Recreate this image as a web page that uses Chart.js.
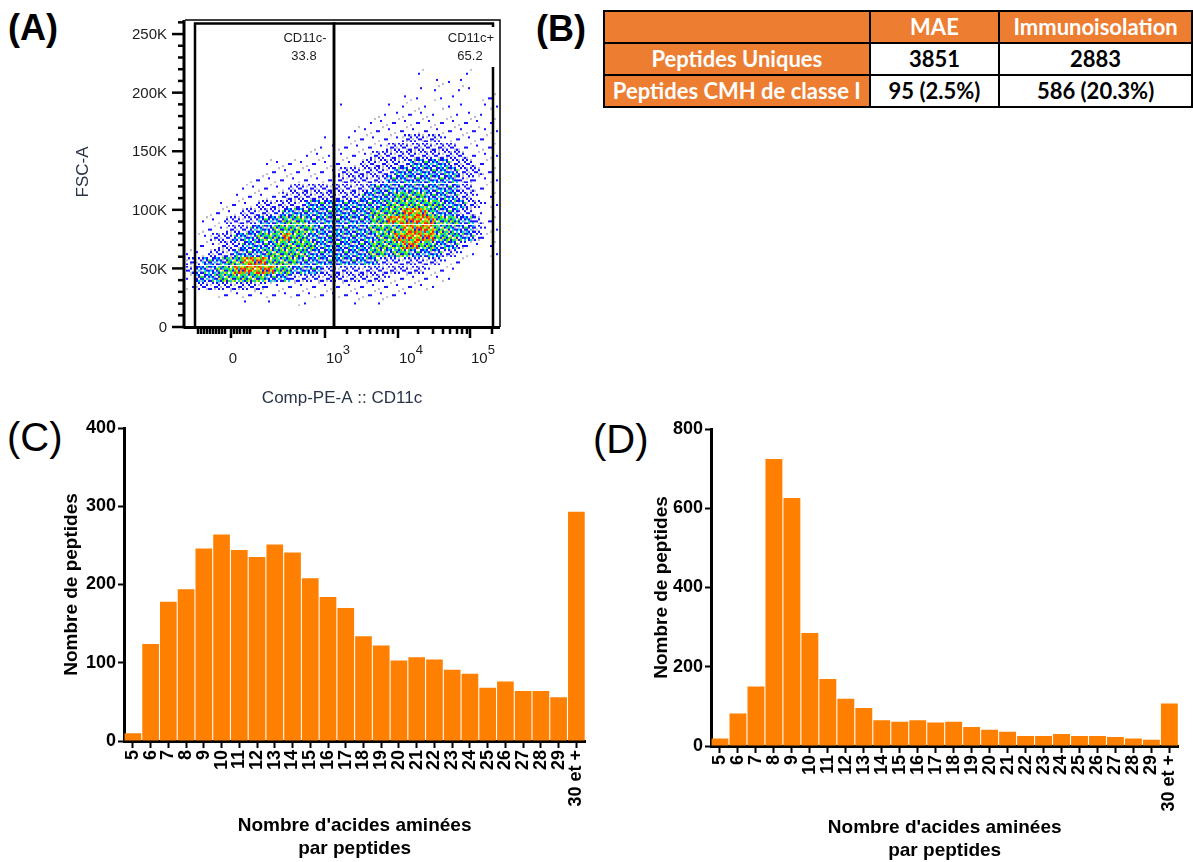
<!DOCTYPE html>
<html>
<head>
<meta charset="utf-8">
<script src="https://cdn.jsdelivr.net/npm/chart.js@4.4.1/dist/chart.umd.min.js"></script>
<style>
  body { margin: 0; background: #fff; width: 1193px; height: 862px; position: relative; overflow: hidden;
         font-family: "Liberation Sans", Arial, sans-serif; }
  .panel-label { position: absolute; line-height: 1; color: #000; }
  canvas { position: absolute; }
  #summaryTable { position: absolute; left: 603px; top: 10px; border-collapse: collapse;
                  font-family: Lato, "Open Sans", sans-serif; font-weight: bold; font-size: 22px; }
  #summaryTable td { border: 2px solid #000; height: 30px; padding: 0; text-align: center; line-height: 1; }
  #summaryTable td.orange { background: #ed7d31; color: #fff; }
  #summaryTable td.value { background: #fff; color: #000; }
</style>
</head>
<body>
<div class="panel-label" style="left:8px;top:10px;font-size:36px;font-weight:bold">(A)</div>
<div class="panel-label" style="left:536px;top:11px;font-size:36px;font-weight:bold">(B)</div>
<div class="panel-label" style="left:7px;top:417px;font-size:40px">(C)</div>
<div class="panel-label" style="left:593px;top:419px;font-size:40px">(D)</div>

<canvas id="flowChart" width="520" height="420" style="left:0;top:0"></canvas>
<table id="summaryTable"></table>
<canvas id="maeChart" width="600" height="462" style="left:0;top:400px"></canvas>
<canvas id="immunoChart" width="593" height="462" style="left:600px;top:400px"></canvas>

<script>
// ---------- Panel A : CD11c gating (display channels on x, FSC-A on y) ----------
const fscTicks = [0, 50000, 100000, 150000, 200000, 250000];
const fscTickLabels = ["0", "50K", "100K", "150K", "200K", "250K"];
const cd11cTickPos = [46, 140, 213, 285]; // 0, 10^3, 10^4, 10^5
const cd11cTickBase = ["0", "10", "10", "10"];
const cd11cTickExp = ["", "3", "4", "5"];
const cd11cMinorPos = [13, 16, 19, 22, 25, 28, 31, 34, 37, 40, 49, 52, 55, 59, 62, 65,
  83, 95, 105, 112, 118, 123, 128, 132, 162, 175, 185, 192, 198, 203, 208,
  233, 248, 258, 265, 272, 277, 282, 307];

const gateNames = ["CD11c-", "CD11c+"];
const gateFreqs = ["33.8", "65.2"];
const gateNegX = [10, 10, 149, 149];
const gatePosX = [149, 149, 308, 308];
const gateY = [0, 259000, 259000, 0];

// density: 0 empty .. 5 red
// rows from FSC 217K down to 21K (step 7K), columns every 8 channels starting at 5
const densityTopFsc = 217000;
const densityStepFsc = 7000;
const densityFirstX = 5;
const densityStepX = 8;
const densityRows = [
  "000000000000000000000000000001000001000",
  "000000000000000000000000000000011010000",
  "000000000000000000000000000001010011001",
  "000000000000000000000000000110010100011",
  "000000000000000000010000010101001010011",
  "000000000000000000000000101111100101101",
  "000000000000000000000001111111111111101",
  "000000000000000000000111111111111111111",
  "000000000000000001001111111222221111111",
  "000000000000000010111111122222222211111",
  "000000000000000111011112222222222221111",
  "000000000011111111111122222233333222111",
  "000000000011111111122222223333333322211",
  "000000001111111111122222233333333322111",
  "000000011111122222222223333333333322111",
  "000000111111222222222233334444333322101",
  "000011111222222333333333344444443332211",
  "000111122222333333333334444555433322101",
  "001112222333444333333334455555544433211",
  "001112223334444433333334444555544333211",
  "011222333444544333333333445555544433211",
  "011122233334444433333334444554433321101",
  "111222333344444333333334434433332211001",
  "223334455544443333333333222222221110001",
  "233344555554433332222222222222111100000",
  "133344444433322222222222211111111000000",
  "122222222211111111111111111111100000000",
  "000011111111111111111111111100000000000",
  "000000010010001000000100100000000000000",
];

// ---------- Panel B ----------
const tableHeaders = ["", "MAE", "Immunoisolation"];
const tableRowNames = ["Peptides Uniques", "Peptides CMH de classe I"];
const maeTotals = ["3851", "95 (2.5%)"];
const immunoTotals = ["2883", "586 (20.3%)"];

// ---------- Panels C and D ----------
const lengthLabels = ["5", "6", "7", "8", "9", "10", "11", "12", "13", "14", "15", "16", "17",
  "18", "19", "20", "21", "22", "23", "24", "25", "26", "27", "28", "29", "30 et +"];
const maeCounts = [10, 124, 178, 194, 246, 264, 244, 235, 251, 241, 208, 184, 170,
  134, 122, 103, 107, 104, 91, 86, 68, 76, 64, 64, 56, 293];
const immunoCounts = [19, 82, 150, 724, 626, 285, 169, 119, 96, 65, 61, 65, 59,
  61, 48, 41, 36, 25, 25, 30, 25, 25, 23, 19, 16, 107];

Chart.defaults.font.family = "'Liberation Sans', Arial, sans-serif";

// speckle tiles used to draw each density cell (2px dots on an 8px tile)
const speckleColors = {
  b: "#1414ff", g: "#bcbccc", c: "#00d2e6", G: "#2ee62e",
  y: "#e8e41e", o: "#ff8c00", r: "#ff1e00",
};
const speckleTiles = {
  1: [["....", ".b..", "....", "...."], ["....", "....", "...b", "g..."], ["..g.", "....", "b...", "...."]],
  2: [["b.g.", "..b.", "bb..", "..gb"], [".b.b", "g...", "..bb", "b.g."], ["g.b.", "b..b", ".g..", "b.b."]],
  3: [["bcb.", "g.bG", "cb.b", ".bcg"], [".bbc", "Gb.b", "b.cg", "cb.b"], ["b.Gb", "cbg.", ".cbb", "bG.c"]],
  4: [["Gcyb", "bGc.", "yGbG", "cbGy"], ["cGbG", "ybcG", "G.yb", "bGcy"], ["yb.G", "cGyc", "bGGb", "G.cy"]],
  5: [["roGy", "yrcr", "Gybo", "rGro"], ["yGro", "orGy", "bryr", "Gocr"], ["oyrG", "Gr.y", "ryGo", "cGyr"]],
};

function makeSpeckle(rows) {
  const tile = document.createElement("canvas");
  tile.width = 8;
  tile.height = 8;
  const g = tile.getContext("2d");
  rows.forEach((row, r) => {
    [...row].forEach((ch, k) => {
      if (speckleColors[ch]) {
        g.fillStyle = speckleColors[ch];
        g.fillRect(k * 2, r * 2, 2, 2);
      }
    });
  });
  return tile;
}

function buildDensityDatasets() {
  const sets = [];
  for (let level = 1; level <= 5; level++) {
    const tiles = speckleTiles[level];
    tiles.forEach((tileRows, variant) => {
      const points = [];
      densityRows.forEach((row, j) => {
        [...row].forEach((ch, i) => {
          if (Number(ch) === level && (i + 2 * j) % tiles.length === variant) {
            points.push({ x: densityFirstX + densityStepX * i, y: densityTopFsc - densityStepFsc * j });
          }
        });
      });
      sets.push({
        data: points,
        pointStyle: makeSpeckle(tileRows),
        pointRadius: 4,
        order: 2,
      });
    });
  }
  return sets;
}

function gateDataset(xs) {
  return {
    data: xs.map((x, k) => ({ x: x, y: gateY[k] })),
    showLine: true,
    pointRadius: 0,
    borderColor: "#000",
    borderWidth: 2.5,
    fill: false,
    order: 1,
  };
}

// axes, frame and texts of the flow plot
const flowAxesPlugin = {
  id: "flowAxes",
  afterDatasetsDraw(chart) {
    const { ctx, chartArea: a, scales: { x, y } } = chart;
    const ink = "#1c1c1c";
    ctx.save();

    // gate labels
    const negRight = x.getPixelForValue(gateNegX[2]);
    const posRight = x.getPixelForValue(gatePosX[2]);
    ctx.fillStyle = "#fff";
    ctx.fillRect(posRight - 48, a.top + 7, 52, 40);
    ctx.fillStyle = ink;
    ctx.font = "13px 'Liberation Sans', Arial";
    ctx.textAlign = "center";
    ctx.textBaseline = "middle";
    ctx.fillText(gateNames[0], negRight - 29, 38);
    ctx.fillText(gateFreqs[0], negRight - 30, 56);
    ctx.fillText(gateNames[1], posRight - 22, 38);
    ctx.fillText(gateFreqs[1], posRight - 23, 56);

    // thin frame
    ctx.strokeStyle = "#000";
    ctx.lineWidth = 1.5;
    ctx.beginPath();
    ctx.moveTo(a.left, a.top);
    ctx.lineTo(a.right, a.top);
    ctx.lineTo(a.right, a.bottom);
    ctx.stroke();

    // axis lines
    ctx.lineWidth = 3;
    ctx.beginPath();
    ctx.moveTo(a.left - 1, a.top);
    ctx.lineTo(a.left - 1, a.bottom + 1.5);
    ctx.moveTo(a.left - 1, a.bottom + 0.5);
    ctx.lineTo(a.right, a.bottom + 0.5);
    ctx.stroke();

    // y ticks
    ctx.lineWidth = 2.5;
    for (let v = 0; v <= 260000; v += 10000) {
      const py = y.getPixelForValue(v);
      const len = fscTicks.includes(v) ? 12 : 6;
      ctx.beginPath();
      ctx.moveTo(a.left - 1, py);
      ctx.lineTo(a.left - 1 - len, py);
      ctx.stroke();
    }
    ctx.font = "15px 'Liberation Sans', Arial";
    ctx.textAlign = "right";
    fscTicks.forEach((v, k) => {
      ctx.fillText(fscTickLabels[k], a.left - 18, y.getPixelForValue(v) + 1);
    });

    // x ticks
    cd11cMinorPos.forEach((v) => {
      const px = x.getPixelForValue(v);
      ctx.beginPath();
      ctx.moveTo(px, a.bottom);
      ctx.lineTo(px, a.bottom + 7);
      ctx.stroke();
    });
    cd11cTickPos.forEach((v) => {
      const px = x.getPixelForValue(v);
      ctx.beginPath();
      ctx.moveTo(px, a.bottom);
      ctx.lineTo(px, a.bottom + 11);
      ctx.stroke();
    });
    ctx.textBaseline = "alphabetic";
    cd11cTickPos.forEach((v, k) => {
      const px = x.getPixelForValue(v);
      ctx.font = "15px 'Liberation Sans', Arial";
      if (!cd11cTickExp[k]) {
        ctx.textAlign = "center";
        ctx.fillText(cd11cTickBase[k], px + 2, 363);
      } else {
        ctx.textAlign = "left";
        ctx.fillText(cd11cTickBase[k], px + 1, 363);
        const w = ctx.measureText(cd11cTickBase[k]).width;
        ctx.font = "13px 'Liberation Sans', Arial";
        ctx.fillText(cd11cTickExp[k], px + 1 + w, 354);
      }
    });

    // axis titles
    ctx.font = "17px 'Liberation Sans', Arial";
    ctx.textAlign = "center";
    ctx.textBaseline = "middle";
    ctx.fillStyle = "#2a3448";
    ctx.fillText("Comp-PE-A :: CD11c", 342, 398);
    ctx.translate(83, 172);
    ctx.rotate(-Math.PI / 2);
    ctx.fillText("FSC-A", 0, 0);
    ctx.restore();
  },
};

new Chart(document.getElementById("flowChart"), {
  type: "scatter",
  data: {
    datasets: [gateDataset(gateNegX), gateDataset(gatePosX), ...buildDensityDatasets()],
  },
  options: {
    responsive: false,
    animation: false,
    events: [],
    layout: { padding: { left: 185, top: 20, right: 20, bottom: 93 } },
    plugins: { legend: { display: false }, tooltip: { enabled: false } },
    scales: {
      x: { type: "linear", display: false, min: 0, max: 315 },
      y: { type: "linear", display: false, min: 0, max: 262000 },
    },
  },
  plugins: [flowAxesPlugin],
});

// ---------- Panel B table ----------
function buildTable() {
  const table = document.getElementById("summaryTable");
  const widths = [265, 128, 191];
  const head = document.createElement("tr");
  tableHeaders.forEach((h, k) => {
    const td = document.createElement("td");
    td.className = "orange";
    td.style.width = widths[k] + "px";
    td.textContent = h;
    head.appendChild(td);
  });
  table.appendChild(head);
  tableRowNames.forEach((name, r) => {
    const tr = document.createElement("tr");
    [name, maeTotals[r], immunoTotals[r]].forEach((txt, k) => {
      const td = document.createElement("td");
      td.className = k === 0 ? "orange" : "value";
      td.textContent = txt;
      tr.appendChild(td);
    });
    table.appendChild(tr);
  });
}
buildTable();

// ---------- Panels C and D ----------
function buildPeptideChart(canvasId, counts, yMax, yStep, geom) {
  return new Chart(document.getElementById(canvasId), {
    type: "bar",
    data: {
      labels: lengthLabels,
      datasets: [{
        data: counts,
        backgroundColor: "#ff8000",
        barPercentage: 0.94,
        categoryPercentage: 1,
      }],
    },
    options: {
      responsive: false,
      animation: false,
      events: [],
      layout: { padding: { top: geom.top, right: geom.right, left: 0, bottom: 0 } },
      plugins: { legend: { display: false }, tooltip: { enabled: false } },
      scales: {
        x: {
          border: { color: "#000", width: 3 },
          grid: { display: true, drawOnChartArea: false, offset: false, tickLength: 7, tickWidth: 2, tickColor: "#000" },
          ticks: {
            color: "#000", font: { size: 18, weight: "bold" },
            autoSkip: false, maxRotation: 90, minRotation: 90, padding: 2,
          },
          title: {
            display: true,
            text: ["Nombre d'acides aminées", "par peptides"],
            color: "#000",
            font: { size: 19, weight: "bold" },
            padding: { top: 0, bottom: geom.xTitlePad },
          },
          afterFit: (scale) => { scale.height = geom.xAxisHeight; },
        },
        y: {
          min: 0,
          max: yMax,
          border: { color: "#000", width: 3 },
          grid: { display: true, drawOnChartArea: false, tickLength: 6, tickWidth: 2, tickColor: "#000" },
          ticks: { stepSize: yStep, color: "#000", font: { size: 18, weight: "bold" }, padding: 2 },
          title: {
            display: true,
            text: "Nombre de peptides",
            color: "#000",
            font: { size: 19, weight: "bold" },
            padding: { top: geom.yTitlePad, bottom: 0 },
          },
          afterFit: (scale) => { scale.width = geom.yAxisWidth; },
        },
      },
    },
  });
}

buildPeptideChart("maeChart", maeCounts, 400, 100, {
  top: 28, right: 2, xAxisHeight: 121, yAxisWidth: 124, xTitlePad: 2, yTitlePad: 60,
});
buildPeptideChart("immunoChart", immunoCounts, 800, 200, {
  top: 29, right: 1, xAxisHeight: 116, yAxisWidth: 111, xTitlePad: 0, yTitlePad: 50,
});
</script>
</body>
</html>
